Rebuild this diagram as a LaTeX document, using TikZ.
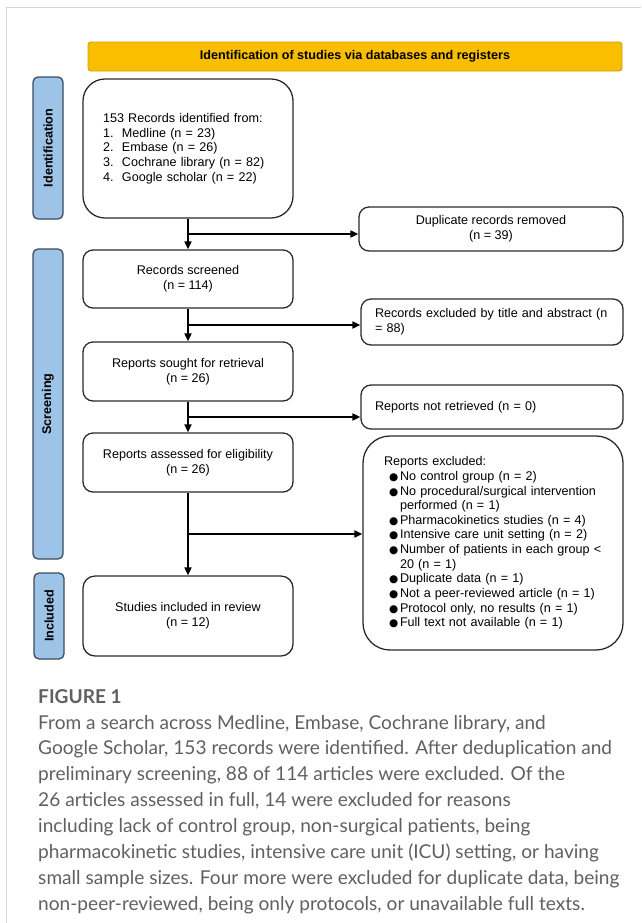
\documentclass[tikz,border=0pt]{standalone}
\usepackage{fontspec}
\setmainfont{Liberation Sans}
\newfontfamily\capfont{Lato}
\newfontfamily\symfont{DejaVu Sans}
\usetikzlibrary{positioning, arrows.meta, calc}

\definecolor{bannerfill}{HTML}{F9BE00}
\definecolor{bannerdraw}{HTML}{D39E00}
\definecolor{barfill}{HTML}{9DC3E6}
\definecolor{bardraw}{HTML}{3A4B5C}
\definecolor{boxdraw}{HTML}{2A2A2A}
\definecolor{framegray}{HTML}{D6D6D6}
\definecolor{capgray}{HTML}{606060}

\begin{document}
\begin{tikzpicture}[x=0.03cm, y=-0.03cm]

	% 参数设置
	\def\upx{0.03cm}
	\def\bul{\hspace*{0.15cm}\makebox[0.33cm][l]{\symfont\fontsize{9}{9}\selectfont ●}}
	\def\cont{\hspace*{0.48cm}}

	% 定义样式
	\tikzset{
		flowbox/.style = {
			rectangle, rounded corners=10*\upx,
			draw=boxdraw, line width=1.1pt, fill=white,
			minimum width=210*\upx, inner sep=0pt, align=center,
			font=\fontsize{10.75}{12.5}\selectfont
		},
		stagebar/.style = {
			rectangle, rounded corners=5*\upx,
			draw=bardraw, line width=1.1pt, fill=barfill,
			rotate=90, minimum height=30*\upx, inner sep=0pt,
			font=\fontsize{10.75}{12.5}\selectfont\bfseries
		},
		banner/.style = {
			rectangle, rounded corners=3*\upx,
			draw=bannerdraw, line width=0.8pt, fill=bannerfill,
			minimum width=534*\upx, minimum height=29*\upx, inner sep=0pt,
			font=\fontsize{10.75}{12.5}\selectfont\bfseries
		},
		flowarrow/.style = {
			line width=1.6pt, -{Triangle[length=2.4mm, width=2.1mm]}
		}
	}

	\useasboundingbox (0,0) rectangle (641,923);

	% 外框线
	\draw[framegray, line width=0.8pt] (641,7.5) -- (6.5,7.5) -- (6.5,923);

	% 标题栏
	\node[banner] (banner) at (355,56.5) {Identification of studies via databases and registers};

	% 左侧阶段标签
	\node[stagebar, minimum width=142*\upx] (idbar) at (48,148) {Identification};
	\node[stagebar, minimum width=310*\upx] (scrbar) at (48,404) {Screening};
	\node[stagebar, minimum width=86*\upx] (incbar) at (49,616) {Included};

	% 主流程框
	\node[flowbox, rounded corners=22*\upx, align=left, text width=170*\upx,
		inner xsep=20*\upx, minimum height=139*\upx] (records) at (188,148.5)
		{153 Records identified from:\\
		\makebox[0.57cm][l]{1.}Medline (n = 23)\\
		\makebox[0.57cm][l]{2.}Embase (n = 26)\\
		\makebox[0.57cm][l]{3.}Cochrane library (n = 82)\\
		\makebox[0.57cm][l]{4.}Google scholar (n = 22)};
	\node[flowbox, minimum height=58*\upx] (screened) at (188,279) {Records screened\\(n = 114)};
	\node[flowbox, minimum height=59*\upx] (sought) at (188,371.5) {Reports sought for retrieval\\(n = 26)};
	\node[flowbox, minimum height=59*\upx] (assessed) at (188,462.5) {Reports assessed for eligibility\\(n = 26)};
	\node[flowbox, rounded corners=12*\upx, minimum height=80*\upx] (included) at (188,616) {Studies included in review\\(n = 12)};

	% 右侧排除框
	\node[flowbox, minimum width=264*\upx, minimum height=44*\upx] (dup) at (491,229) {Duplicate records removed\\(n = 39)};
	\node[flowbox, align=left, text width=234*\upx, inner xsep=14*\upx,
		minimum height=46*\upx] (titleexcl) at (492,322) {Records excluded by title and abstract (n\\= 88)};
	\node[flowbox, align=left, text width=234*\upx, inner xsep=14*\upx,
		minimum height=44*\upx] (notret) at (492,407) {Reports not retrieved (n = 0)};
	\node[flowbox, rounded corners=27*\upx, align=left, text width=218*\upx,
		inner xsep=21*\upx, minimum height=214*\upx] (repexcl) at (493,543)
		{Reports excluded:\\
		\bul No control group (n = 2)\\
		\bul No procedural/surgical intervention\\
		\cont performed (n = 1)\\
		\bul Pharmacokinetics studies (n = 4)\\
		\bul Intensive care unit setting (n = 2)\\
		\bul Number of patients in each group <\\
		\cont 20 (n = 1)\\
		\bul Duplicate data (n = 1)\\
		\bul Not a peer-reviewed article (n = 1)\\
		\bul Protocol only, no results (n = 1)\\
		\bul Full text not available (n = 1)};

	% 分支点
	\coordinate (b1) at ($(records.south)!0.5!(screened.north)$);
	\coordinate (b2) at ($(screened.south)!0.5!(sought.north)$);
	\coordinate (b3) at ($(sought.south)!0.5!(assessed.north)$);
	\coordinate (b4) at ($(assessed.south)!0.5!(included.north)$);

	% 箭头
	\draw[flowarrow] (records.south) -- (screened.north);
	\draw[flowarrow] (screened.south) -- (sought.north);
	\draw[flowarrow] (sought.south) -- (assessed.north);
	\draw[flowarrow] (assessed.south) -- (included.north);
	\draw[flowarrow] (b1) -- (b1 -| dup.west);
	\draw[flowarrow] (b2) -- (b2 -| titleexcl.west);
	\draw[flowarrow] (b3) -- (b3 -| notret.west);
	\draw[flowarrow] (b4) -- (b4 -| repexcl.west);

	% 图注
	\node[anchor=north west, inner sep=0pt, align=left, text=capgray,
		font=\capfont\fontsize{16.3}{22.1}\selectfont] (caption) at (38,689)
		{\textbf{FIGURE 1}\\
		From a search across Medline, Embase, Cochrane library, and\\
		Google Scholar, 153 records were identified. After deduplication and\\
		preliminary screening, 88 of 114 articles were excluded. Of the\\
		26 articles assessed in full, 14 were excluded for reasons\\
		including lack of control group, non-surgical patients, being\\
		pharmacokinetic studies, intensive care unit (ICU) setting, or having\\
		small sample sizes. Four more were excluded for duplicate data, being\\
		non-peer-reviewed, being only protocols, or unavailable full texts.};

\end{tikzpicture}
\end{document}
